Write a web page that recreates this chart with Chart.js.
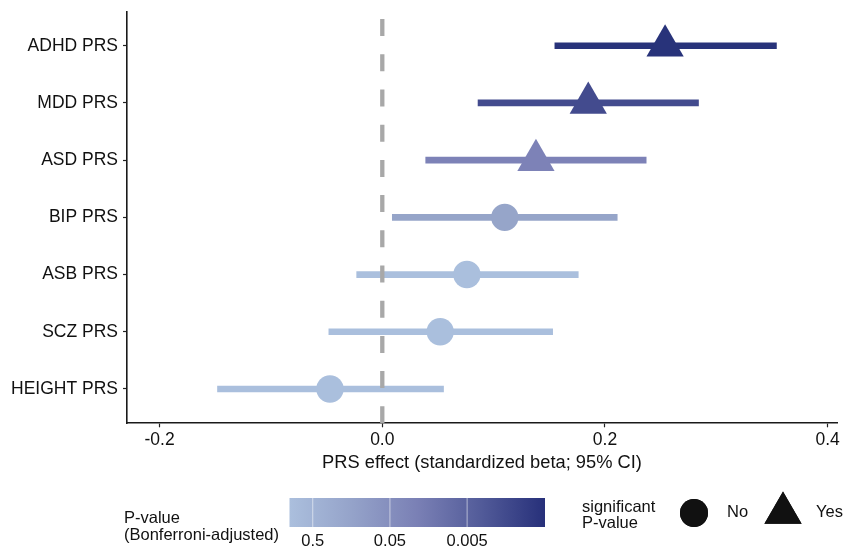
<!DOCTYPE html>
<html>
<head>
<meta charset="utf-8">
<script src="https://cdn.jsdelivr.net/npm/chart.js@4.4.1/dist/chart.umd.min.js"></script>
<style>
  html, body { margin: 0; padding: 0; background: #ffffff; }
  #wrap { position: relative; width: 846px; height: 547px; }
</style>
</head>
<body>
<div id="wrap"><canvas id="forest" width="846" height="547"></canvas></div>
<script>
// Polygenic risk scores and their standardized effects (beta with 95% CI)
const categories = ['ADHD PRS', 'MDD PRS', 'ASD PRS', 'BIP PRS', 'ASB PRS', 'SCZ PRS', 'HEIGHT PRS'];
const beta   = [0.254, 0.185, 0.138, 0.110, 0.076, 0.052, -0.047];
const ciLow  = [0.155, 0.086, 0.039, 0.009, -0.023, -0.048, -0.148];
const ciHigh = [0.354, 0.284, 0.237, 0.211, 0.176, 0.153, 0.055];
const significant = [true, true, true, false, false, false, false];
const xTicks = [-0.2, 0.0, 0.2, 0.4];
const pLegendTicks = [0.5, 0.05, 0.005];

// Fill colour per row on the Bonferroni-adjusted P-value scale
const rowColors = ['#28337a', '#434b8e', '#7d82b7', '#96a5c9', '#aabfdd', '#aabfdd', '#aabfdd'];

const n = categories.length;
const rowPos = categories.map((_, i) => n - i);
const FONT = '"Liberation Sans", Arial, sans-serif';
const INK = '#111111';

const ciData = categories.map((_, i) => ({ y: rowPos[i], x: [ciLow[i], ciHigh[i]] }));
const pointData = categories.map((_, i) => ({ x: beta[i], y: rowPos[i] }));

// Colour-bar and shape legend drawn under the plot
const legendPlugin = {
  id: 'pvalueLegend',
  afterDraw(chart) {
    const ctx = chart.ctx;
    ctx.save();
    ctx.fillStyle = INK;
    ctx.textBaseline = 'middle';
    ctx.textAlign = 'left';
    ctx.font = '16.5px ' + FONT;
    ctx.fillText('P-value', 124, 518);
    ctx.fillText('(Bonferroni-adjusted)', 124, 535);

    // gradient bar, -log10(p) from 0 to ~3.31
    const bx0 = 289.5, bx1 = 545, by0 = 498, by1 = 527;
    const lMin = 0, lMax = 3.31;
    const g = ctx.createLinearGradient(bx0, 0, bx1, 0);
    g.addColorStop(0, '#abbfdd');
    g.addColorStop(0.25, '#94a2c9');
    g.addColorStop(0.5, '#7a80b5');
    g.addColorStop(0.75, '#525b99');
    g.addColorStop(1, '#27307a');
    ctx.fillStyle = g;
    ctx.fillRect(bx0, by0, bx1 - bx0, by1 - by0);

    ctx.textAlign = 'center';
    pLegendTicks.forEach(p => {
      const x = bx0 + (-Math.log10(p) - lMin) / (lMax - lMin) * (bx1 - bx0);
      ctx.strokeStyle = 'rgba(255,255,255,0.55)';
      ctx.lineWidth = 1;
      ctx.beginPath();
      ctx.moveTo(x, by0);
      ctx.lineTo(x, by1);
      ctx.stroke();
      ctx.fillStyle = INK;
      ctx.fillText(String(p), x, 541.5);
    });

    ctx.textAlign = 'left';
    ctx.fillStyle = INK;
    ctx.fillText('significant', 582, 507.5);
    ctx.fillText('P-value', 582, 523);
    ctx.fillText('No', 727, 512.5);
    ctx.fillText('Yes', 816, 512.5);

    Chart.helpers.drawPoint(ctx, { pointStyle: 'circle', radius: 14, rotation: 0, borderWidth: 0 }, 694, 513);
    ctx.fill();
    Chart.helpers.drawPoint(ctx, { pointStyle: 'triangle', radius: 21.5, rotation: 0, borderWidth: 0 }, 783, 513);
    ctx.fill();
    ctx.restore();
  }
};

new Chart(document.getElementById('forest'), {
  type: 'scatter',
  data: {
    datasets: [
      {
        type: 'bar',
        indexAxis: 'y',
        data: ciData,
        backgroundColor: rowColors,
        borderWidth: 0,
        borderSkipped: false,
        barThickness: 6,
        order: 3
      },
      {
        type: 'line',
        data: [{ x: 0, y: 0.4 }, { x: 0, y: 7.6 }],
        borderColor: '#a8a8a8',
        borderWidth: 4.3,
        borderDash: [17, 18.2],
        pointRadius: 0,
        fill: false,
        order: 2
      },
      {
        type: 'scatter',
        data: pointData,
        pointStyle: significant.map(s => s ? 'triangle' : 'circle'),
        pointRadius: significant.map(s => s ? 21.5 : 13.7),
        backgroundColor: rowColors,
        borderWidth: 0,
        order: 1
      }
    ]
  },
  options: {
    responsive: false,
    animation: false,
    events: [],
    layout: { autoPadding: false, padding: { top: 11.4, right: 9, bottom: 0, left: 0 } },
    plugins: { legend: { display: false }, tooltip: { enabled: false } },
    scales: {
      x: {
        type: 'linear',
        offset: false,
        min: -0.2293,
        max: 0.4084,
        afterBuildTicks: s => { s.ticks = xTicks.map(v => ({ value: v })); },
        afterFit: s => { s.height = 547 - 423.3; s.paddingLeft = 0; s.paddingRight = 0; },
        ticks: {
          callback: v => v.toFixed(1),
          color: INK,
          font: { family: FONT, size: 17.5 },
          padding: 2.5,
          maxRotation: 0
        },
        grid: { display: true, offset: false, drawOnChartArea: false, tickLength: 4, tickColor: '#222', tickWidth: 1.2 },
        border: { display: true, color: '#1a1a1a', width: 1.6 },
        title: {
          display: true,
          text: 'PRS effect (standardized beta; 95% CI)',
          color: INK,
          font: { family: FONT, size: 18.3 },
          padding: { top: 0, bottom: 73.5 }
        }
      },
      y: {
        type: 'linear',
        offset: false,
        min: 0.4,
        max: 7.6,
        afterBuildTicks: s => { s.ticks = rowPos.map(v => ({ value: v })); },
        afterFit: s => { s.width = 127; s.paddingTop = 0; s.paddingBottom = 0; },
        ticks: {
          callback: v => categories[n - v],
          color: INK,
          font: { family: FONT, size: 17.5 },
          padding: 5
        },
        grid: { display: true, offset: false, drawOnChartArea: false, tickLength: 4, tickColor: '#222', tickWidth: 1.2 },
        border: { display: true, color: '#1a1a1a', width: 1.6 }
      }
    }
  },
  plugins: [legendPlugin]
});
</script>
</body>
</html>
